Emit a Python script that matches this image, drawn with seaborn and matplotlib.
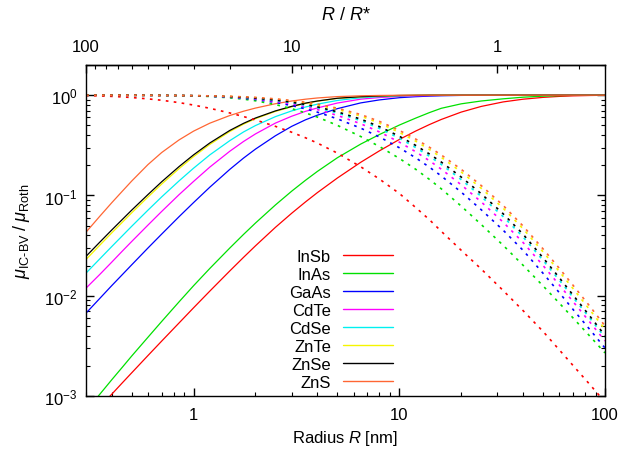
import numpy as np
import matplotlib
matplotlib.use("Agg")
import matplotlib.pyplot as plt
import matplotlib.ticker as mticker
from matplotlib.lines import Line2D
import seaborn as sns

# ---------------- data ----------------
radius_nm = [0.3, 0.35, 0.4, 0.45, 0.5, 0.6, 0.7, 0.85, 1, 1.2, 1.5, 1.75, 2, 2.5, 3, 3.5, 4, 5,
             6.5, 8, 10, 12, 14, 16, 20, 25, 32, 40, 50, 60, 70, 85, 100]

materials = ["InSb", "InAs", "GaAs", "CdTe", "CdSe", "ZnTe", "ZnSe", "ZnS"]
colors = ["#ff0000", "#00e000", "#0000ff", "#ff00ff", "#00f0f0", "#f5f500", "#000000", "#ff6633"]

# solid curves (rising)
insb_solid = [0.00055, 0.00078, 0.00104, 0.00135, 0.0017, 0.00253, 0.00353, 0.00535, 0.00758, 0.01113, 0.01767,
              0.02416, 0.03147, 0.0481, 0.0665, 0.0862, 0.1068, 0.1492, 0.2144, 0.2783, 0.3614, 0.4384, 0.5089,
              0.5727, 0.6783, 0.7722, 0.8568, 0.912, 0.951, 0.9725, 0.9847, 0.9933, 0.998]
inas_solid = [0.00071, 0.00104, 0.00145, 0.00193, 0.0025, 0.00385, 0.00554, 0.00869, 0.01258, 0.01873, 0.0299,
              0.0409, 0.0531, 0.0804, 0.1104, 0.1417, 0.1738, 0.2377, 0.3257, 0.4048, 0.5033, 0.59, 0.67,
              0.74, 0.82, 0.875, 0.92, 0.955, 0.978, 0.99, 0.996, 1.0, 1.0]
gaas_solid = [0.0067, 0.0094, 0.0126, 0.0162, 0.0203, 0.0299, 0.0412, 0.0614, 0.0849, 0.121, 0.182,
              0.236, 0.29, 0.394, 0.489, 0.568, 0.632, 0.734, 0.838, 0.897, 0.944, 0.966, 0.979,
              0.987, 0.995, 0.998, 1.0, 1.0, 1.0, 1.0, 1.0, 1.0, 1.0]
cdte_solid = [0.0119, 0.0163, 0.0216, 0.0278, 0.0347, 0.0506, 0.0693, 0.1018, 0.138, 0.192, 0.276,
              0.3455, 0.411, 0.527, 0.617, 0.69, 0.746, 0.835, 0.913, 0.948, 0.972, 0.985, 0.992,
              0.995, 0.998, 1.0, 1.0, 1.0, 1.0, 1.0, 1.0, 1.0, 1.0]
cdse_solid = [0.0168, 0.0233, 0.0309, 0.0395, 0.0492, 0.0713, 0.0968, 0.1397, 0.187, 0.254, 0.352,
              0.43, 0.498, 0.611, 0.697, 0.762, 0.814, 0.886, 0.943, 0.967, 0.985, 0.993, 0.996,
              0.998, 1.0, 1.0, 1.0, 1.0, 1.0, 1.0, 1.0, 1.0, 1.0]
znte_solid = [0.023, 0.0319, 0.0423, 0.0539, 0.067, 0.0964, 0.13, 0.185, 0.244, 0.323, 0.434,
              0.514, 0.583, 0.689, 0.766, 0.827, 0.871, 0.929, 0.964, 0.982, 0.992, 0.997, 1.0,
              1.0, 1.0, 1.0, 1.0, 1.0, 1.0, 1.0, 1.0, 1.0, 1.0]
znse_solid = [0.0247, 0.0342, 0.0452, 0.0575, 0.0713, 0.102, 0.137, 0.194, 0.254, 0.334, 0.445,
              0.524, 0.592, 0.697, 0.774, 0.833, 0.875, 0.932, 0.966, 0.983, 0.993, 0.997, 1.0,
              1.0, 1.0, 1.0, 1.0, 1.0, 1.0, 1.0, 1.0, 1.0, 1.0]
zns_solid = [0.043, 0.062, 0.0845, 0.11, 0.139, 0.203, 0.268, 0.358, 0.438, 0.526, 0.627,
             0.692, 0.744, 0.822, 0.875, 0.912, 0.938, 0.968, 0.986, 0.994, 0.998, 1.0, 1.0,
             1.0, 1.0, 1.0, 1.0, 1.0, 1.0, 1.0, 1.0, 1.0, 1.0]

# dotted curves (falling)
insb_dotted = [0.99, 0.983, 0.973, 0.961, 0.948, 0.919, 0.89, 0.843, 0.797, 0.74, 0.665,
               0.612, 0.566, 0.489, 0.427, 0.376, 0.333, 0.2644, 0.193, 0.1459, 0.1048, 0.076, 0.0574,
               0.0439, 0.0284, 0.0185, 0.01126, 0.00709, 0.0044, 0.00288, 0.00201, 0.00128, 0.00087]
inas_dotted = [1.0, 1.0, 0.999, 0.999, 0.998, 0.996, 0.994, 0.99, 0.985, 0.9707, 0.9421,
               0.9129, 0.8796, 0.8064, 0.7337, 0.6659, 0.6047, 0.5003, 0.3868, 0.3079, 0.2345, 0.1828, 0.1448,
               0.1165, 0.0783, 0.0514, 0.0318, 0.0201, 0.01253, 0.00843, 0.00599, 0.00389, 0.00269]
gaas_dotted = [1.0, 1.0, 0.999, 0.999, 0.998, 0.9964, 0.9944, 0.9911, 0.9868, 0.9759, 0.9539,
               0.9315, 0.9058, 0.8477, 0.788, 0.7307, 0.6772, 0.5812, 0.4688, 0.3836, 0.2993, 0.2378, 0.1917,
               0.1565, 0.1079, 0.0722, 0.045, 0.02833, 0.01673, 0.01071, 0.00728, 0.00452, 0.00301]
cdte_dotted = [1.0, 1.0, 0.999, 0.999, 0.998, 0.9966, 0.9946, 0.9918, 0.9878, 0.9787, 0.9601,
               0.9415, 0.9199, 0.87, 0.8181, 0.7672, 0.7185, 0.6289, 0.5186, 0.4305, 0.3404, 0.2733, 0.2222,
               0.1829, 0.1277, 0.0864, 0.0541, 0.0339, 0.02, 0.01277, 0.00872, 0.00536, 0.00354]
cdse_dotted = [1.0, 1.0, 0.999, 0.999, 0.998, 0.9968, 0.9947, 0.9922, 0.9885, 0.9806, 0.9645,
               0.9485, 0.9299, 0.8862, 0.84, 0.7939, 0.7489, 0.6645, 0.5566, 0.4669, 0.3724, 0.3011, 0.2463,
               0.2039, 0.1438, 0.0979, 0.0615, 0.03848, 0.02251, 0.01428, 0.00961, 0.00586, 0.00384]
znte_dotted = [1.0, 1.0, 0.999, 0.999, 0.998, 0.9969, 0.9949, 0.9929, 0.9896, 0.9835, 0.9712,
               0.9591, 0.9451, 0.9112, 0.8739, 0.8357, 0.797, 0.7224, 0.6189, 0.527, 0.4263, 0.3484, 0.2877,
               0.2401, 0.1716, 0.1181, 0.0746, 0.0465, 0.02737, 0.01743, 0.01176, 0.00709, 0.00463]
znse_dotted = [1.0, 1.0, 0.999, 0.999, 0.998, 0.9968, 0.9948, 0.9924, 0.9889, 0.9816, 0.9668,
               0.952, 0.9349, 0.8944, 0.8511, 0.8076, 0.7646, 0.6831, 0.5766, 0.4861, 0.3896, 0.3161, 0.2594,
               0.2153, 0.1526, 0.1042, 0.0656, 0.041, 0.02389, 0.0151, 0.01013, 0.00615, 0.00401]
zns_dotted = [1.0, 1.0, 0.999, 0.999, 0.998, 0.997, 0.995, 0.993, 0.99, 0.9845, 0.9734,
              0.9627, 0.95, 0.9196, 0.8857, 0.85, 0.8137, 0.7424, 0.641, 0.5485, 0.4458, 0.3657, 0.3029,
              0.2535, 0.1822, 0.1257, 0.0795, 0.0495, 0.0293, 0.01873, 0.01268, 0.0077, 0.005]

solid_series = [insb_solid, inas_solid, gaas_solid, cdte_solid, cdse_solid, znte_solid, znse_solid, zns_solid]
dotted_series = [insb_dotted, inas_dotted, gaas_dotted, cdte_dotted, cdse_dotted, znte_dotted, znse_dotted, zns_dotted]

x_label = "Radius $R$ [nm]"
y_label = r"$\mu_{\mathrm{IC\text{-}BV}}\;/\;\mu_{\mathrm{Roth}}$"
top_label = "$R$ / $R$*"
top_ticks = [100, 10, 1]
top_scale = 30.0  # R/R* axis: 100 at R = 0.3 nm

# ---------------- style ----------------
sns.set_style("ticks")
plt.rcParams["font.family"] = ["Liberation Sans", "DejaVu Sans"]
plt.rcParams["mathtext.fontset"] = "custom"
plt.rcParams["mathtext.rm"] = "Liberation Sans"
plt.rcParams["mathtext.it"] = "Liberation Sans:italic"
plt.rcParams["mathtext.bf"] = "Liberation Sans:bold"
for key in ["text.color", "axes.labelcolor", "xtick.color", "ytick.color", "axes.edgecolor"]:
    plt.rcParams[key] = "black"
plt.rcParams["axes.linewidth"] = 1.0

fig = plt.figure(figsize=(6.23, 4.56), dpi=100)
ax = fig.add_axes([86 / 623, 59 / 456, 519 / 623, 331 / 456])

for vals, col in zip(solid_series, colors):
    sns.lineplot(x=radius_nm, y=vals, color=col, lw=0.9, ax=ax, legend=False)
for vals, col in zip(dotted_series, colors):
    sns.lineplot(x=radius_nm, y=vals, color=col, lw=1.2, ls=(0, (1.6, 3.2)), ax=ax, legend=False)

ax.set_xscale("log")
ax.set_yscale("log")
ax.set_xlim(0.3, 100)
ax.set_ylim(1e-3, 2.0)

ax.xaxis.set_major_formatter(mticker.FuncFormatter(lambda v, p: f"{v:g}"))
ax.xaxis.set_minor_formatter(mticker.NullFormatter())
ax.tick_params(axis="both", which="both", direction="in", labelsize=12, colors="black")
ax.tick_params(axis="y", which="both", right=True)
ax.tick_params(which="major", length=6, width=1.0)
ax.tick_params(which="minor", length=3, width=0.8)
ax.tick_params(axis="x", which="major", pad=8)
ax.tick_params(axis="y", which="major", pad=6)

ax.set_xlabel(x_label, fontsize=12, labelpad=4)
ax.set_ylabel(y_label, fontsize=13, labelpad=9)

def fwd(r):
    r = np.asarray(r, dtype=float)
    with np.errstate(divide="ignore", invalid="ignore"):
        return top_scale / r

sec = ax.secondary_xaxis("top", functions=(fwd, fwd))
sec.xaxis.set_major_locator(mticker.FixedLocator(top_ticks))
sec.xaxis.set_minor_locator(mticker.LogLocator(base=10, subs=np.arange(2, 10)))
sec.tick_params(axis="x", which="both", direction="in", labelsize=12, colors="black")
sec.tick_params(which="major", length=6, width=1.0, pad=8)
sec.tick_params(which="minor", length=3, width=0.8)
sec.xaxis.set_major_formatter(mticker.FuncFormatter(lambda v, p: f"{v:g}"))
sec.xaxis.set_minor_formatter(mticker.NullFormatter())
sec.set_xlabel(top_label, fontsize=13, labelpad=14)

handles = [Line2D([], [], color=c, lw=1.0) for c in colors]
ax.legend(handles, materials, loc="upper right", bbox_to_anchor=(0.591, 0.444),
          frameon=False, markerfirst=False, handlelength=3.0, handletextpad=0.7,
          labelspacing=0.18, fontsize=12, borderaxespad=0, borderpad=0)

fig.savefig("out.png", dpi=100)
